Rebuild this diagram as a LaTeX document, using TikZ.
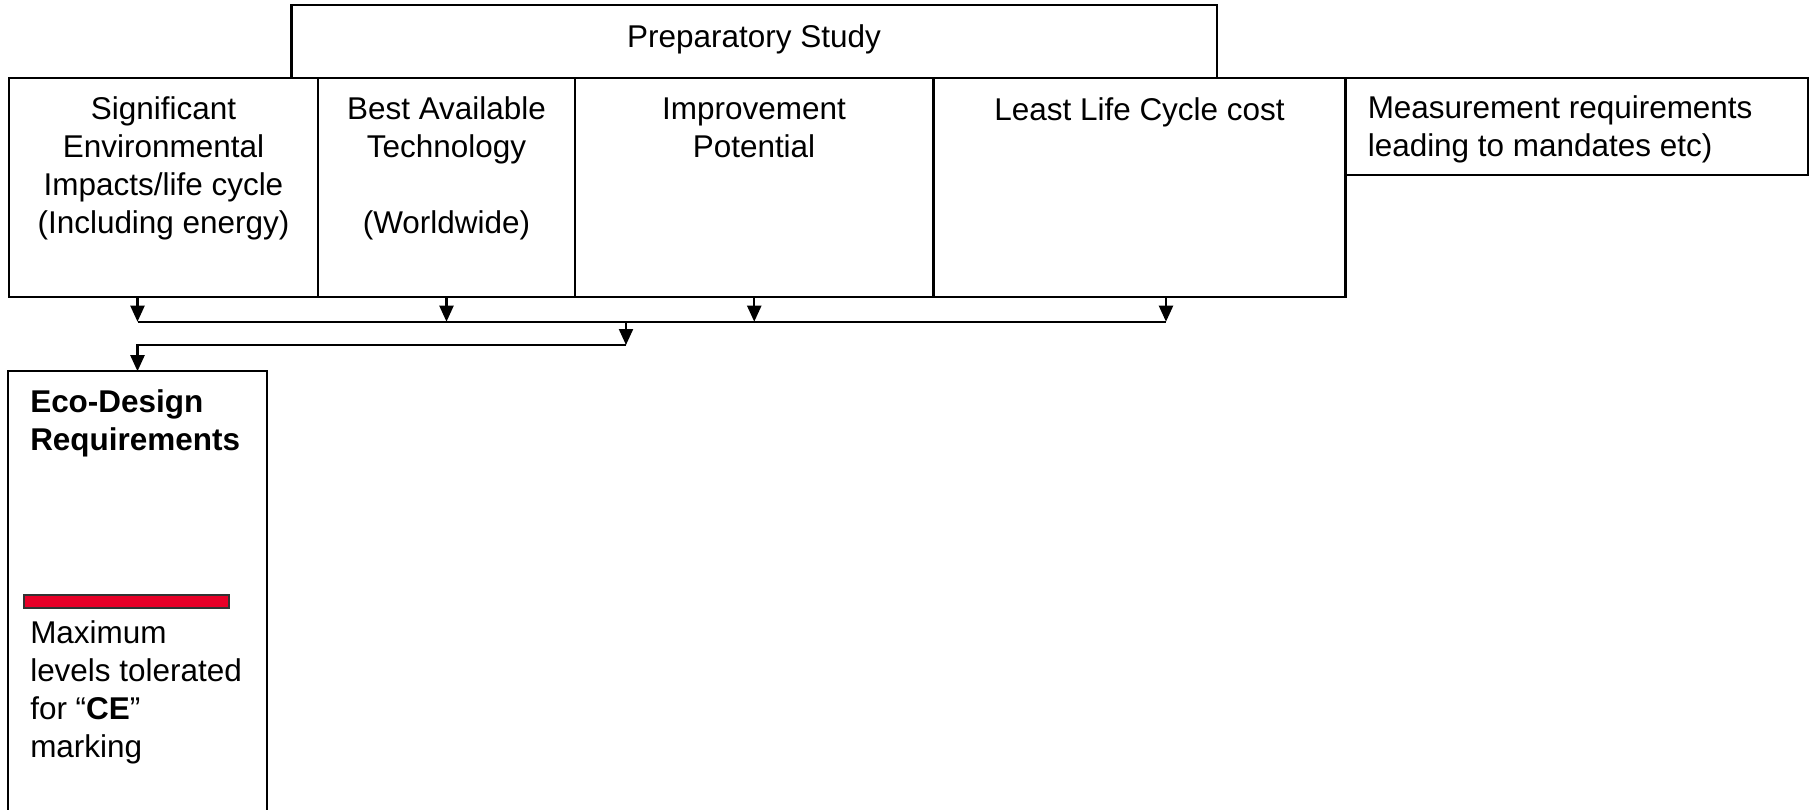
\documentclass[tikz,border=0pt]{standalone}
\usepackage{fontspec}
\setmainfont{Liberation Sans}
\usetikzlibrary{arrows.meta,fit}
\definecolor{ceRed}{RGB}{232,0,40}
\begin{document}
\begin{tikzpicture}[x=0.75pt,y=-0.75pt,
  box/.style={draw,line width=1.6pt,inner sep=0pt},
  txtc/.style={anchor=base,align=center,inner sep=0pt,font=\fontsize{23.6}{28.3}\selectfont},
  txtl/.style={anchor=base west,align=left,inner sep=0pt,font=\fontsize{23.6}{28.3}\selectfont},
  conn/.style={line width=1.6pt},
  arr/.style={line width=1.6pt,-{Triangle[width=10.5pt,length=12pt]}}]
\useasboundingbox (0,0) rectangle (1814,810);
% boxes
\node[box,fit={(291.5,5) (1217,78)}] (prep) {};
\node[box,fit={(9,78) (318,297)}] (b1) {};
\node[box,fit={(318,78) (575,297)}] (b2) {};
\node[box,fit={(575,78) (933.5,297)}] (b3) {};
\node[box,fit={(933.5,78) (1345.5,297)}] (b4) {};
\node[box,fit={(1345.5,78) (1808,175)}] (meas) {};
\node[inner sep=0pt,fit={(8.5,371.5) (266.5,812)}] (eco) {};
\draw[line width=1.6pt] (eco.south west) -- (eco.north west) -- (eco.north east) -- (eco.south east);
\node[draw=black!80,line width=1pt,fill=ceRed,inner sep=0pt,fit={(24,595) (229,608)}] (bar) {};
% texts (anchor base = baseline of last line)
\node[txtc] (prepT) at (754,47) {Preparatory Study};
\node[txtc] (b1T) at (163.5,233.1) {Significant\\Environmental\\Impacts/life cycle\\(Including energy)};
\node[txtc] (b2T) at (446.5,233.1) {Best Available\\Technology\\\strut\\(Worldwide)};
\node[txtc] (b3T) at (754,157.7) {Improvement\\Potential};
\node[txtc] (b4T) at (1139.5,120) {Least Life Cycle cost};
\node[txtl] (measT) at (1367.5,156.5) {Measurement requirements\\leading to mandates etc)};
\node[txtl] (ecoT) at (30,450.7) {\textbf{Eco-Design}\\\textbf{Requirements}};
\node[txtl] (maxT) at (30,757) {Maximum\\levels tolerated\\for “\textbf{CE}”\\marking};
% connectors
\coordinate (busL) at (137.5,321.7);
\coordinate (busR) at (1166,321.7);
\coordinate (drop) at (626,321.7);
\coordinate (elbow) at (626,345);
\draw[conn] (busL) -- (busR);
\draw[arr] (b1.south -| busL) -- (busL);
\draw[arr] (b2.south) -- (b2.south |- busL);
\draw[arr] (b3.south) -- (b3.south |- busL);
\draw[arr] (b4.south -| busR) -- (busR);
\draw[arr] (drop) -- (elbow);
\draw[arr] (elbow) -- (elbow -| eco.north) -- (eco.north);
\end{tikzpicture}
\end{document}
